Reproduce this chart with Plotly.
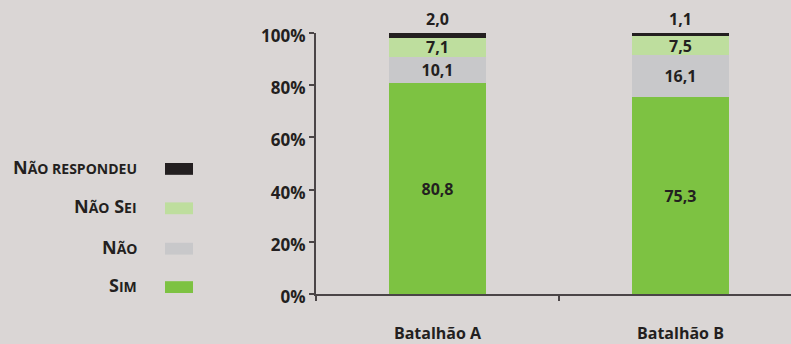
import plotly.graph_objects as go

categories = ["Batalhão A", "Batalhão B"]
series_names = ["Sim", "Não", "Não Sei", "Não respondeu"]
sim = [80.8, 75.3]
nao = [10.1, 16.1]
nao_sei = [7.1, 7.5]
nao_respondeu = [2.0, 1.1]
y_tick_values = [0, 20, 40, 60, 80, 100]
y_tick_labels = ["0%", "20%", "40%", "60%", "80%", "100%"]

colors = {"Sim": "#7DC242", "Não": "#C8C8CA", "Não Sei": "#BEDE9E", "Não respondeu": "#231F20"}
SC = "<span style='font-size:14px'>"
legend_labels = {
    "Não respondeu": "N" + SC + "ÃO RESPONDEU</span>",
    "Não Sei": "N" + SC + "ÃO</span> S" + SC + "EI</span>",
    "Não": "N" + SC + "ÃO</span>",
    "Sim": "S" + SC + "IM</span>",
}

BG = "#DAD6D5"
DARK = "#231F20"
AXIS = "#4A4547"
FONT = "Open Sans"

fig = go.Figure()
values = {"Sim": sim, "Não": nao, "Não Sei": nao_sei, "Não respondeu": nao_respondeu}
for name in series_names:
    fig.add_trace(go.Bar(
        x=categories, y=values[name], name=name,
        marker=dict(color=colors[name], line=dict(width=0)),
        width=0.4,
        texttemplate="%{y:.1f}",
        textposition="outside" if name == "Não respondeu" else "inside",
        insidetextanchor="middle",
        constraintext="none",
        textfont=dict(family=FONT, size=16, color=DARK, weight="bold"),
        cliponaxis=False,
        showlegend=False,
    ))

# Custom legend: right-aligned label then swatch
L, W, T, H = 316, 475, 33, 265
def px_to_paper_x(px):
    return (px - L) / W
def px_to_paper_y(py):
    return (T + H - py) / H

legend_order = ["Não respondeu", "Não Sei", "Não", "Sim"]
row_centers = [171, 211, 252, 291]
for name, cy in zip(legend_order, row_centers):
    fig.add_shape(type="rect", xref="paper", yref="paper",
                  x0=px_to_paper_x(165), x1=px_to_paper_x(193),
                  y0=px_to_paper_y(cy + 6), y1=px_to_paper_y(cy - 6),
                  fillcolor=colors[name], line=dict(width=0), layer="above")
    fig.add_annotation(xref="paper", yref="paper",
                       x=px_to_paper_x(139), y=px_to_paper_y(cy - 2),
                       xanchor="right", yanchor="middle", showarrow=False,
                       text=legend_labels[name],
                       font=dict(family=FONT, size=18, color=DARK, weight="bold"))

fig.update_layout(
    width=791, height=344,
    margin=dict(l=L, r=0, t=T, b=344 - T - H, pad=0),
    paper_bgcolor=BG, plot_bgcolor=BG,
    barmode="stack",
    separators=",.",
    showlegend=False,
    font=dict(family=FONT, color=DARK),
    xaxis=dict(
        type="category", range=[-0.5, 1.455],
        showline=True, linecolor=AXIS, linewidth=2,
        ticks="outside", ticklen=5, tickwidth=2, tickcolor=AXIS,
        tickson="boundaries", showgrid=False, zeroline=False,
        ticklabelstandoff=24,
        tickfont=dict(family=FONT, size=16, color=DARK, weight="bold"),
    ),
    yaxis=dict(
        range=[0, 100], tickmode="array",
        tickvals=y_tick_values, ticktext=y_tick_labels,
        showline=True, linecolor=AXIS, linewidth=2,
        ticks="outside", ticklen=5, tickwidth=2, tickcolor=AXIS,
        showgrid=False, zeroline=False,
        ticklabelshift=3,
        tickfont=dict(family=FONT, size=17, color=DARK, weight="bold"),
    ),
)

fig.write_html("out.html")
